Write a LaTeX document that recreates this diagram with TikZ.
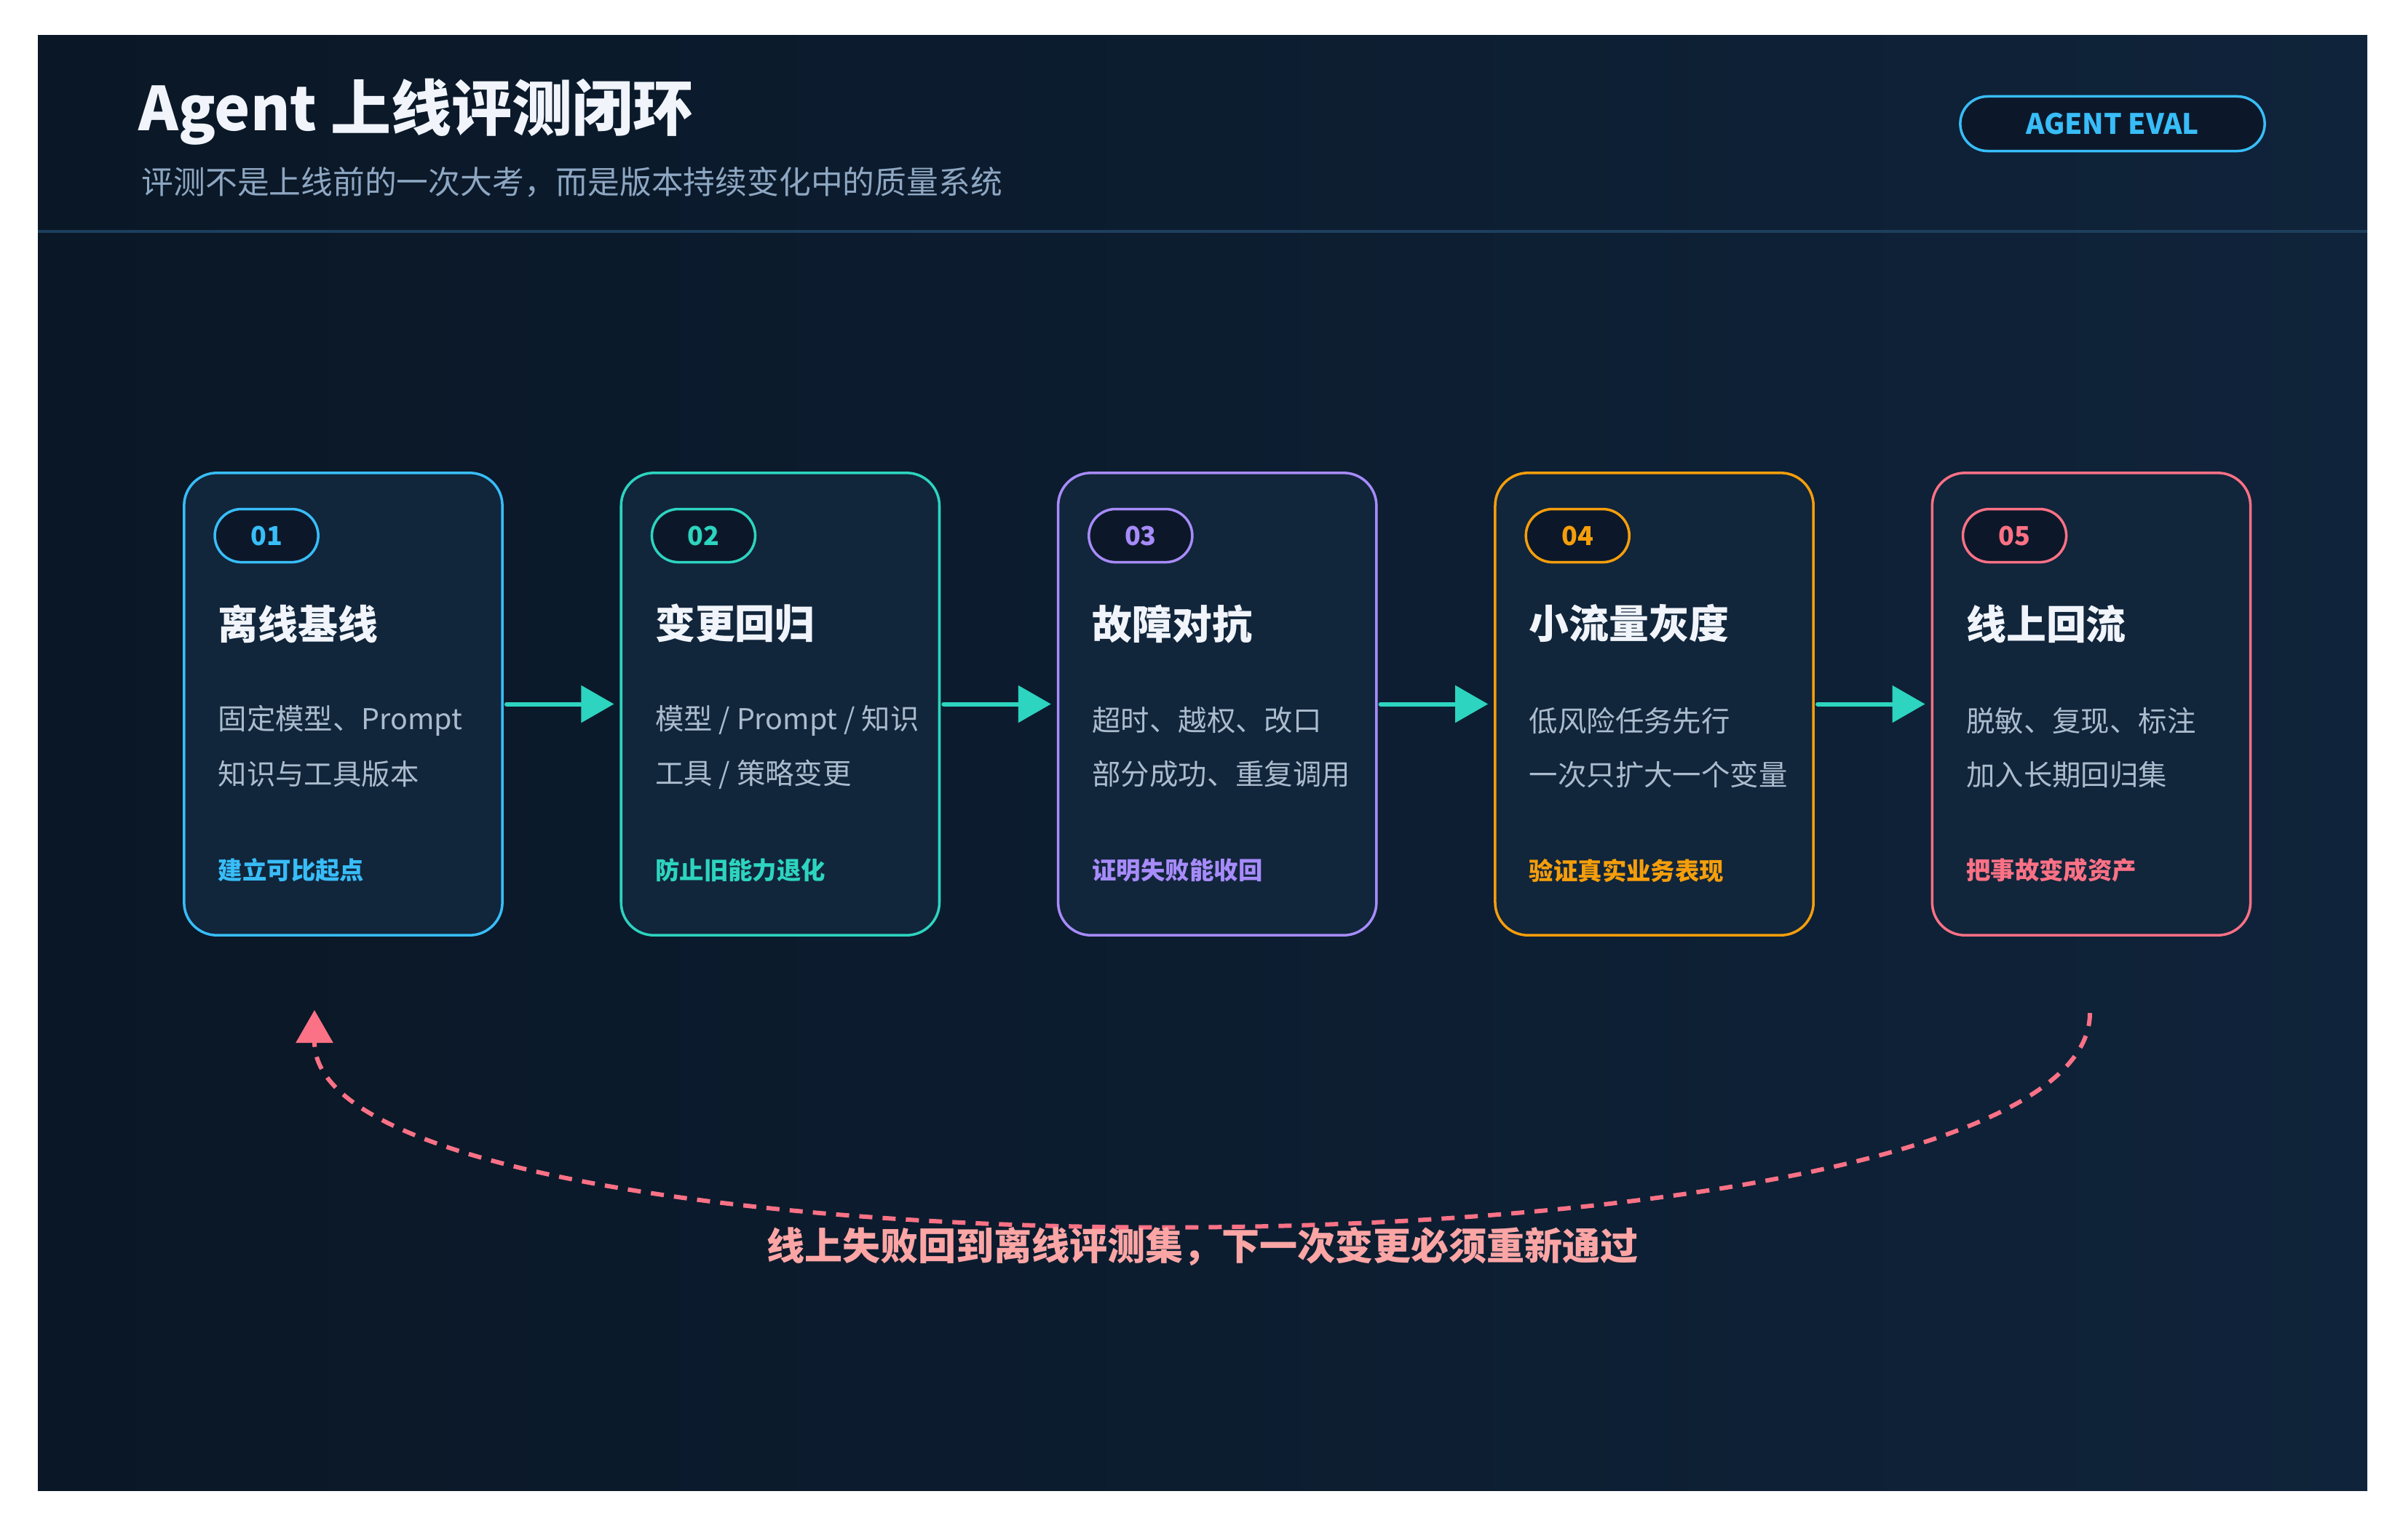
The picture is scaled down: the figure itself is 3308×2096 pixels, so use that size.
\documentclass[tikz,border=0pt]{standalone}
\usepackage{fontspec}
\setmainfont{Noto Sans CJK SC}
\usepackage{xcolor}
\usepackage{tikz}
\usetikzlibrary{calc,positioning,arrows.meta}

\definecolor{bgA}{HTML}{0A1726}
\definecolor{bgB}{HTML}{0F233A}
\definecolor{cardfill}{HTML}{11253B}
\definecolor{pillfill}{HTML}{0C1829}
\definecolor{rulecol}{HTML}{1E3F5E}
\definecolor{subtxt}{HTML}{8EA7C2}
\definecolor{desctxt}{HTML}{ABBCCD}
\definecolor{titletxt}{HTML}{F1F5FB}
\definecolor{cblue}{HTML}{38BDF8}
\definecolor{cteal}{HTML}{2DD4BF}
\definecolor{cviolet}{HTML}{A78BFA}
\definecolor{camber}{HTML}{F59E0B}
\definecolor{crose}{HTML}{FB7185}
\definecolor{looptxt}{HTML}{FCA5A5}

\tikzset{
  card/.style={draw=#1, line width=1pt, fill=cardfill, rounded corners=0.45cm,
    minimum width=4.37cm, minimum height=6.35cm, inner sep=0pt},
  pill/.style={draw=#1, text=#1, line width=1pt, fill=pillfill, rounded corners=0.365cm,
    minimum width=1.42cm, minimum height=0.73cm, inner sep=0pt,
    font=\fontsize{10.2}{12}\selectfont\bfseries},
  cardtitle/.style={anchor=west, inner sep=0pt, text=titletxt,
    font=\fontsize{15.6}{18}\selectfont\bfseries},
  cardtext/.style={anchor=west, inner sep=0pt, text=desctxt,
    font=\fontsize{11.2}{13}\selectfont},
  cardnote/.style={anchor=west, inner sep=0pt, text=#1,
    font=\fontsize{9.5}{11}\selectfont\bfseries},
  flow/.style={draw=cteal, line width=1.7pt, line cap=round,
    shorten <=0.04cm, shorten >=0.08cm, -{Triangle[length=0.45cm,width=0.5cm]}},
  loopback/.style={draw=crose, line width=1.7pt, dash pattern=on 0.18cm off 0.14cm,
    -{Triangle[length=0.45cm,width=0.5cm]}}
}

\begin{document}
\begin{tikzpicture}[x=0.01cm, y=-0.01cm, node distance=1.595cm]
  \useasboundingbox (0,0) rectangle (3308,2096);
  \fill[white] (0,0) rectangle (3308,2096);
  \shade[left color=bgA, right color=bgB] (52,48) rectangle (3252,2048);
  \draw[rulecol, line width=1.15pt] (52,318) -- (3252,318);

  \node[anchor=west, inner sep=0pt, text=titletxt, font=\fontsize{23.6}{28}\selectfont\bfseries] (title) at (190,154) {Agent 上线评测闭环};
  \node[anchor=west, inner sep=0pt, text=subtxt, font=\fontsize{12.45}{15}\selectfont] (subtitle) at (194,250) {评测不是上线前的一次大考，而是版本持续变化中的质量系统};
  \node[draw=cblue, text=cblue, line width=1pt, fill=pillfill, rounded corners=0.375cm, minimum width=4.18cm, minimum height=0.75cm, inner sep=0pt, font=\fontsize{11}{13}\selectfont\bfseries] (evaltag) at (2902,170) {AGENT EVAL};

  \node[card=cblue] (offline) at (471.5,967.5) {};
  \node[card=cteal, right=of offline] (change) {};
  \node[card=cviolet, right=of change] (fault) {};
  \node[card=camber, right=of fault] (canary) {};
  \node[card=crose, right=of canary] (online) {};

  \node[pill=cblue] (n1) at ($(offline.north west)+(115,88)$) {01};
  \node[cardtitle] (t1) at ($(offline.north west)+(48,209)$) {离线基线};
  \node[cardtext] (a1) at ($(offline.north west)+(48,342)$) {固定模型、Prompt};
  \node[cardtext] (b1) at ($(offline.north west)+(48,416)$) {知识与工具版本};
  \node[cardnote=cblue] (g1) at ($(offline.north west)+(48,548)$) {建立可比起点};

  \node[pill=cteal] (n2) at ($(change.north west)+(115,88)$) {02};
  \node[cardtitle] (t2) at ($(change.north west)+(48,209)$) {变更回归};
  \node[cardtext] (a2) at ($(change.north west)+(48,342)$) {模型 / Prompt / 知识};
  \node[cardtext] (b2) at ($(change.north west)+(48,416)$) {工具 / 策略变更};
  \node[cardnote=cteal] (g2) at ($(change.north west)+(48,548)$) {防止旧能力退化};

  \node[pill=cviolet] (n3) at ($(fault.north west)+(115,88)$) {03};
  \node[cardtitle] (t3) at ($(fault.north west)+(48,209)$) {故障对抗};
  \node[cardtext] (a3) at ($(fault.north west)+(48,342)$) {超时、越权、改口};
  \node[cardtext] (b3) at ($(fault.north west)+(48,416)$) {部分成功、重复调用};
  \node[cardnote=cviolet] (g3) at ($(fault.north west)+(48,548)$) {证明失败能收回};

  \node[pill=camber] (n4) at ($(canary.north west)+(115,88)$) {04};
  \node[cardtitle] (t4) at ($(canary.north west)+(48,209)$) {小流量灰度};
  \node[cardtext] (a4) at ($(canary.north west)+(48,342)$) {低风险任务先行};
  \node[cardtext] (b4) at ($(canary.north west)+(48,416)$) {一次只扩大一个变量};
  \node[cardnote=camber] (g4) at ($(canary.north west)+(48,548)$) {验证真实业务表现};

  \node[pill=crose] (n5) at ($(online.north west)+(115,88)$) {05};
  \node[cardtitle] (t5) at ($(online.north west)+(48,209)$) {线上回流};
  \node[cardtext] (a5) at ($(online.north west)+(48,342)$) {脱敏、复现、标注};
  \node[cardtext] (b5) at ($(online.north west)+(48,416)$) {加入长期回归集};
  \node[cardnote=crose] (g5) at ($(online.north west)+(48,548)$) {把事故变成资产};

  \draw[flow] (offline) -- (change);
  \draw[flow] (change) -- (fault);
  \draw[flow] (fault) -- (canary);
  \draw[flow] (canary) -- (online);

  \coordinate (loopout) at (2871,1392);
  \coordinate (loopin) at (432,1388);
  \draw[loopback] (loopout) .. controls (2871,1778) and (432,1778) .. (loopin);
  \node[text=looptxt, inner sep=0pt, font=\fontsize{14.8}{17}\selectfont\bfseries] (looplabel) at (1652,1713) {线上失败回到离线评测集，下一次变更必须重新通过};
\end{tikzpicture}
\end{document}
